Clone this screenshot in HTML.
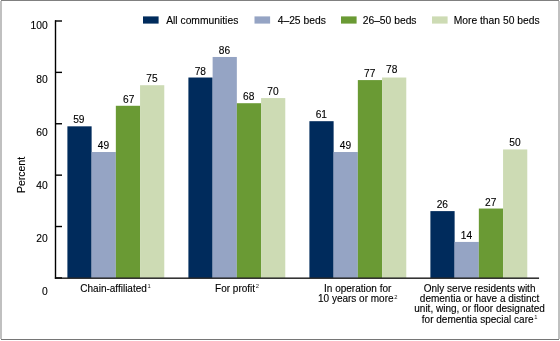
<!DOCTYPE html><html><head><meta charset="utf-8"><style>html,body{margin:0;padding:0;background:#fff;}svg{display:block;will-change:transform;}text{font-family:"Liberation Sans",sans-serif;fill:#000;stroke:#000;stroke-width:0.12;}</style></head><body><svg width="560" height="341" viewBox="0 0 560 341"><rect x="0" y="0" width="560" height="341" fill="#fff"/><rect x="0" y="1" width="2" height="338" fill="#c0c0c0"/><rect x="558" y="1" width="2" height="338" fill="#c0c0c0"/><rect x="1" y="0" width="558" height="1" fill="#808080"/><rect x="1" y="339" width="558" height="1" fill="#767676"/><rect x="67.40" y="126.33" width="24.22" height="151.57" fill="#002b5c"/><text x="78.81" y="123.33" font-size="10.2" text-anchor="middle">59</text><rect x="91.62" y="152.02" width="24.22" height="125.88" fill="#95a4c4"/><text x="103.53" y="149.02" font-size="10.2" text-anchor="middle">49</text><rect x="115.84" y="105.78" width="24.22" height="172.12" fill="#6a9a34"/><text x="128.75" y="102.78" font-size="10.2" text-anchor="middle">67</text><rect x="140.06" y="85.22" width="24.22" height="192.67" fill="#cddbb4"/><text x="151.97" y="82.22" font-size="10.2" text-anchor="middle">75</text><rect x="188.40" y="77.52" width="24.22" height="200.38" fill="#002b5c"/><text x="200.31" y="74.52" font-size="10.2" text-anchor="middle">78</text><rect x="212.62" y="56.97" width="24.22" height="220.93" fill="#95a4c4"/><text x="224.53" y="53.97" font-size="10.2" text-anchor="middle">86</text><rect x="236.84" y="103.21" width="24.22" height="174.69" fill="#6a9a34"/><text x="248.75" y="100.21" font-size="10.2" text-anchor="middle">68</text><rect x="261.06" y="98.07" width="24.22" height="179.83" fill="#cddbb4"/><text x="272.97" y="95.07" font-size="10.2" text-anchor="middle">70</text><rect x="309.40" y="121.19" width="24.22" height="156.71" fill="#002b5c"/><text x="321.31" y="118.19" font-size="10.2" text-anchor="middle">61</text><rect x="333.62" y="152.02" width="24.22" height="125.88" fill="#95a4c4"/><text x="345.53" y="149.02" font-size="10.2" text-anchor="middle">49</text><rect x="357.84" y="80.09" width="24.22" height="197.81" fill="#6a9a34"/><text x="369.75" y="77.09" font-size="10.2" text-anchor="middle">77</text><rect x="382.06" y="77.52" width="24.22" height="200.38" fill="#cddbb4"/><text x="391.77" y="73.32" font-size="10.2" text-anchor="middle">78</text><rect x="430.40" y="211.11" width="24.22" height="66.79" fill="#002b5c"/><text x="442.31" y="208.11" font-size="10.2" text-anchor="middle">26</text><rect x="454.62" y="241.93" width="24.22" height="35.97" fill="#95a4c4"/><text x="466.53" y="238.93" font-size="10.2" text-anchor="middle">14</text><rect x="478.84" y="208.54" width="24.22" height="69.36" fill="#6a9a34"/><text x="490.75" y="205.54" font-size="10.2" text-anchor="middle">27</text><rect x="503.06" y="149.45" width="24.22" height="128.45" fill="#cddbb4"/><text x="514.97" y="146.45" font-size="10.2" text-anchor="middle">50</text><rect x="54.8" y="20.3" width="1.4" height="258.5" fill="#000"/><rect x="55" y="20.30" width="7" height="1.4" fill="#000"/><rect x="55" y="71.68" width="7" height="1.4" fill="#000"/><rect x="55" y="123.06" width="7" height="1.4" fill="#000"/><rect x="55" y="174.44" width="7" height="1.4" fill="#000"/><rect x="55" y="225.82" width="7" height="1.4" fill="#000"/><rect x="55" y="277.20" width="7" height="1.4" fill="#000"/><rect x="54.85" y="277.5" width="484.2" height="1.35" fill="#111"/><text x="47.8" y="294.90" font-size="10.3" text-anchor="end">0</text><text x="47.8" y="241.80" font-size="10.3" text-anchor="end">20</text><text x="47.8" y="188.70" font-size="10.3" text-anchor="end">40</text><text x="47.8" y="135.60" font-size="10.3" text-anchor="end">60</text><text x="47.8" y="82.50" font-size="10.3" text-anchor="end">80</text><text x="47.8" y="29.40" font-size="10.3" text-anchor="end">100</text><text transform="translate(24.5,175) rotate(-90)" x="0" y="0" font-size="10.5" text-anchor="middle">Percent</text><rect x="143" y="16.4" width="15.6" height="7.2" fill="#002b5c"/><text x="166.20" y="23.6" font-size="10.3">All communities</text><rect x="254.5" y="16.4" width="15.6" height="7.2" fill="#95a4c4"/><text x="277.70" y="23.6" font-size="10.3">4–25 beds</text><rect x="341" y="16.4" width="15.6" height="7.2" fill="#6a9a34"/><text x="362.70" y="23.6" font-size="10.3">26–50 beds</text><rect x="432" y="16.4" width="15.6" height="7.2" fill="#cddbb4"/><text x="453.70" y="23.6" font-size="10.3">More than 50 beds</text><text x="115.5" y="291.60" font-size="10" text-anchor="middle">Chain-affiliated<tspan font-size="5.8" dx="0.6" dy="-3.2" style="stroke:none;fill:#222">1</tspan></text><text x="237" y="291.60" font-size="10" text-anchor="middle">For profit<tspan font-size="5.8" dx="0.6" dy="-3.3" style="stroke:none;fill:#222">2</tspan></text><text x="357.7" y="291.60" font-size="10" text-anchor="middle">In operation for</text><text x="357.7" y="302.00" font-size="10" text-anchor="middle">10 years or more<tspan font-size="5.8" dx="0.6" dy="-3.2" style="stroke:none;fill:#222">2</tspan></text><text x="479.6" y="291.60" font-size="10" text-anchor="middle">Only serve residents with</text><text x="479.6" y="302.00" font-size="10" text-anchor="middle">dementia or have a distinct</text><text x="479.6" y="312.40" font-size="10" text-anchor="middle">unit, wing, or floor designated</text><text x="479.6" y="322.80" font-size="10" text-anchor="middle">for dementia special care<tspan font-size="5.8" dx="0.6" dy="-3.8" style="stroke:none;fill:#222">1</tspan></text></svg></body></html>
